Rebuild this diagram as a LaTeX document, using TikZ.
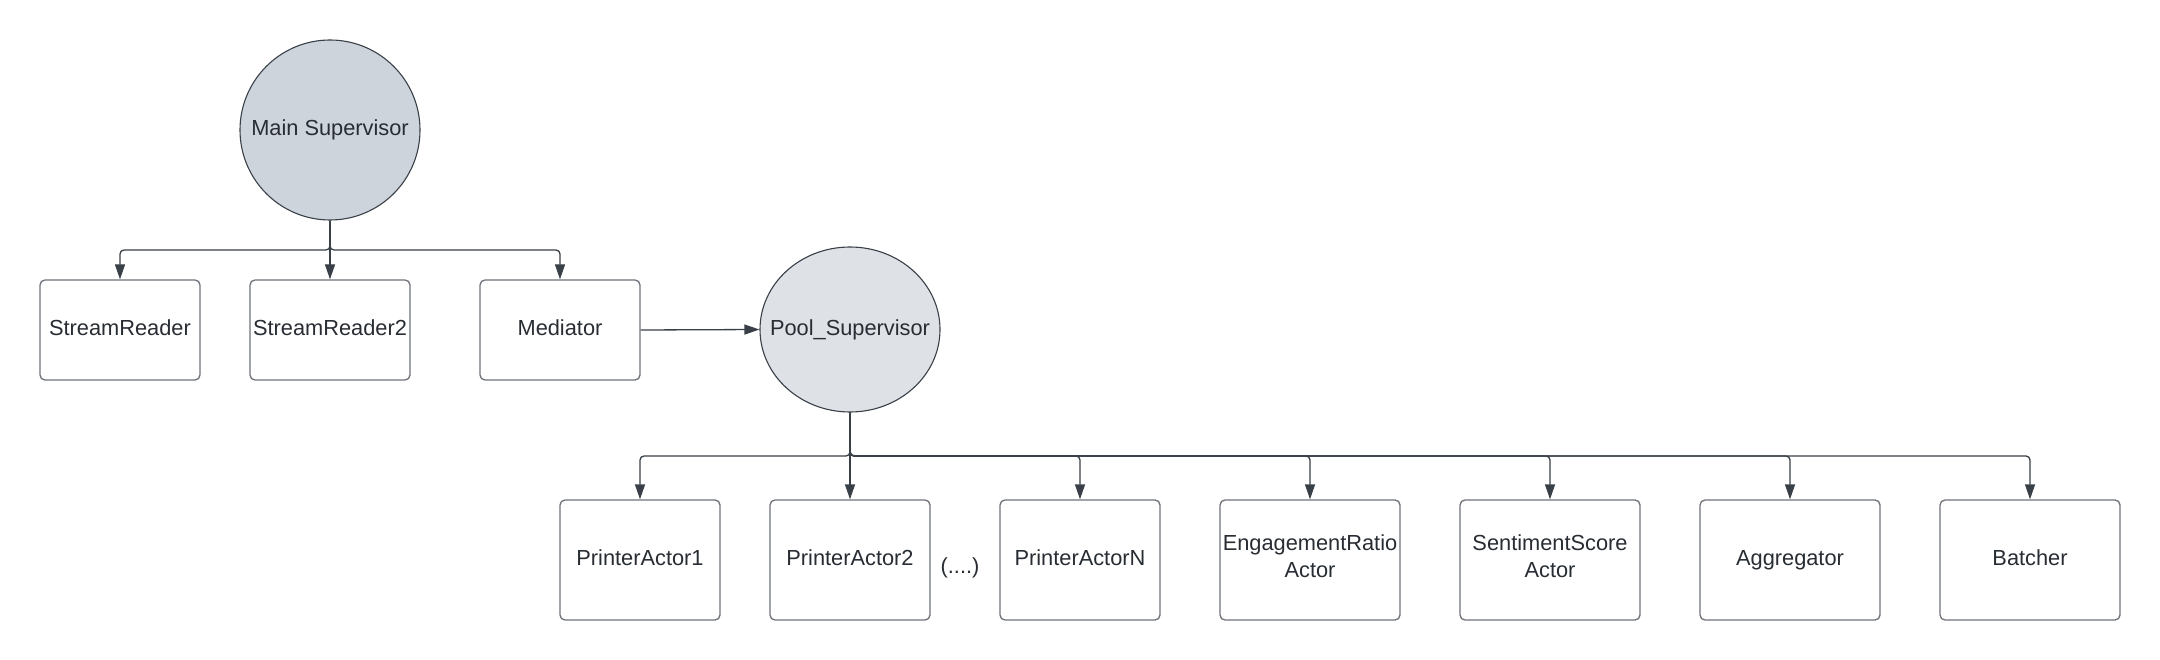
\documentclass[tikz,border=0pt]{standalone}
\usepackage{fontspec}
\setmainfont{Liberation Sans}
\usetikzlibrary{arrows.meta,shapes.geometric}
\definecolor{txt}{RGB}{40,45,52}
\definecolor{boxline}{RGB}{110,114,120}
\definecolor{conn}{RGB}{58,64,72}
\definecolor{mainfill}{RGB}{206,212,220}
\definecolor{poolfill}{RGB}{222,225,230}
\newcommand\linestrut{\rule[-8.5pt]{0pt}{27pt}}
\tikzset{
  actorbox/.style={draw=boxline, line width=1.3pt, rounded corners=5pt, fill=white,
    minimum height=100pt, inner sep=0pt, align=center, text=txt,
    font=\fontsize{21.8}{27}\selectfont,
    execute at begin node=\linestrut, execute at end node=\linestrut},
  supcircle/.style={draw=conn, line width=1.1pt, ellipse, inner sep=0pt, text=txt,
    font=\fontsize{21.8}{27}\selectfont},
  conline/.style={draw=conn, line width=1.3pt, rounded corners=4pt,
    -{Triangle[length=15pt,width=10pt]}},
  plaintext/.style={text=txt, font=\fontsize{21.8}{27}\selectfont, inner sep=0pt}
}
\begin{document}
\begin{tikzpicture}[x=1pt,y=-1pt]
\useasboundingbox[fill=white] (0,0) rectangle (2160,660);
% top level
\node[supcircle, fill=mainfill, minimum width=180pt, minimum height=180pt] (main) at (330,130) {\makebox[0pt]{Main Supervisor}};
\node[actorbox, minimum width=160pt] (sr1) at (120,330) {StreamReader};
\node[actorbox, minimum width=160pt] (sr2) at (330,330) {StreamReader2};
\node[actorbox, minimum width=160pt] (med) at (560,330) {Mediator};
\node[supcircle, fill=poolfill, minimum width=180pt, minimum height=165pt] (pool) at (850,329.5) {\makebox[0pt]{Pool\_Supervisor}};
% bottom level
\node[actorbox, minimum width=160pt, minimum height=120pt] (p1) at (640,560) {PrinterActor1};
\node[actorbox, minimum width=160pt, minimum height=120pt] (p2) at (850,560) {PrinterActor2};
\node[plaintext] (dots) at (960,568) {(....)};
\node[actorbox, minimum width=160pt, minimum height=120pt] (pn) at (1080,560) {PrinterActorN};
\node[actorbox, minimum width=180pt, minimum height=120pt] (eng) at (1310,560) {EngagementRatio\\Actor};
\node[actorbox, minimum width=180pt, minimum height=120pt] (sent) at (1550,560) {SentimentScore\\Actor};
\node[actorbox, minimum width=180pt, minimum height=120pt] (agg) at (1790,560) {Aggregator};
\node[actorbox, minimum width=180pt, minimum height=120pt] (bat) at (2030,560) {Batcher};
% connectors from main supervisor
\coordinate (mbus) at (330,250);
\foreach \c in {sr1,sr2,med}{
  \draw[conline] (main.south) -- (mbus) -| (\c.north);
}
% mediator to pool
\draw[conline] (med.east) -- (pool.west);
% connectors from pool supervisor
\coordinate (pbus) at (850,456);
\foreach \c in {p1,p2,pn,eng,sent,agg,bat}{
  \draw[conline] (pool.south) -- (pbus) -| (\c.north);
}
\end{tikzpicture}
\end{document}
